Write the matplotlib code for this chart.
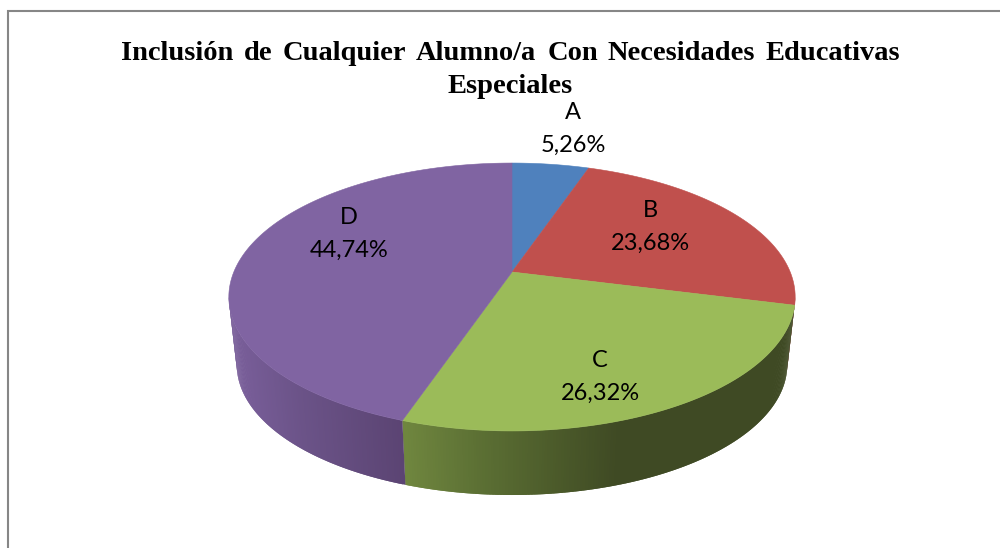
import numpy as np
import matplotlib
matplotlib.use("Agg")
import matplotlib.pyplot as plt
from matplotlib.patches import Polygon
from matplotlib.colors import to_rgb

title_words = ["Inclusión", "de", "Cualquier", "Alumno/a", "Con", "Necesidades", "Educativas"]
title_word_x = [121, 244, 283, 416, 548, 607, 766]
title_line2 = "Especiales"
categories = ["A", "B", "C", "D"]
percentages = [5.26, 23.68, 26.32, 44.74]
top_colors = ["#4F81BD", "#C0504D", "#9BBB59", "#8064A2"]
side_stops = {
    "A": [(0, "#3b618e"), (1000, "#3b618e")],
    "B": [(0, "#8a3a38"), (1000, "#8a3a38")],
    "C": [(403, "#70873f"), (480, "#5c7034"), (560, "#4b5a2a"), (620, "#3f4a24"), (1000, "#3f4a24")],
    "D": [(229, "#7a5f9b"), (300, "#6b5388"), (403, "#5b4473")],
}
label_xy = {"A": (573, 129), "B": (650, 226.5), "C": (600, 377), "D": (349, 234)}

CX, CY, A, B, K = 512.0, 272.0, 278.2, 129.3, 0.1866
S, Y1 = 0.972, 340.5


def top(theta):
    d = 1 + K * np.cos(theta)
    return CX + A * np.sin(theta) / d, CY - B * np.cos(theta) / d


def bottom(theta):
    x, y = top(theta)
    return CX + S * (x - CX), Y1 + S * (y - CY)


def side_color(stops, x):
    xs = [s[0] for s in stops]
    rgb = np.array([to_rgb(s[1]) for s in stops])
    return tuple(np.interp(x, xs, rgb[:, i]) for i in range(3))


fig = plt.figure(figsize=(10, 5.48), dpi=100, facecolor="white")
ax = fig.add_axes([0, 0, 1, 1])
ax.set_xlim(0, 1000)
ax.set_ylim(548, 0)
ax.axis("off")

ax.plot([8, 8, 1000], [548, 11, 11], color="#868686", lw=1.5, solid_joinstyle="miter")

edges = np.concatenate([[0], np.cumsum(percentages)]) / sum(percentages) * 2 * np.pi
vis_lo, vis_hi = np.arccos(-K), 2 * np.pi - np.arccos(-K)

for i, cat in enumerate(categories):
    lo, hi = max(edges[i], vis_lo), min(edges[i + 1], vis_hi)
    if hi <= lo:
        continue
    ts = np.linspace(lo, hi, max(int((hi - lo) * 120), 2))
    step = ts[1] - ts[0]
    for t0 in ts[:-1]:
        # each quad overlaps the next so no white seams show through
        t1 = min(t0 + 2 * step, hi)
        x0, y0 = top(t0)
        x1, y1 = top(t1)
        x2, y2 = bottom(t1)
        x3, y3 = bottom(t0)
        c = side_color(side_stops[cat], x0)
        ax.add_patch(Polygon([(x0, y0), (x1, y1), (x2, y2), (x3, y3)], closed=True,
                             facecolor=c, edgecolor="none", lw=0, zorder=2))

for i, cat in enumerate(categories):
    ts = np.linspace(edges[i], edges[i + 1], 200)
    x, y = top(ts)
    pts = np.column_stack([np.r_[CX, x], np.r_[CY, y]])
    ax.add_patch(Polygon(pts, closed=True, facecolor=top_colors[i], edgecolor=top_colors[i],
                         lw=0.4, zorder=3))
    lx, ly = label_xy[cat]
    ax.text(lx, ly, f"{cat}\n{percentages[i]:.2f}%".replace(".", ","), ha="center", va="center",
            fontsize=17, family="Lato", color="black", linespacing=1.7, zorder=5)

for word, wx in zip(title_words, title_word_x):
    ax.text(wx, 60, word, ha="left", va="baseline", family="Liberation Serif",
            fontweight="bold", fontsize=20.5, color="black", zorder=5)
ax.text(510, 93, title_line2, ha="center", va="baseline", family="Liberation Serif",
        fontweight="bold", fontsize=20.5, color="black", zorder=5)

fig.savefig("out.png", dpi=100, facecolor="white")
